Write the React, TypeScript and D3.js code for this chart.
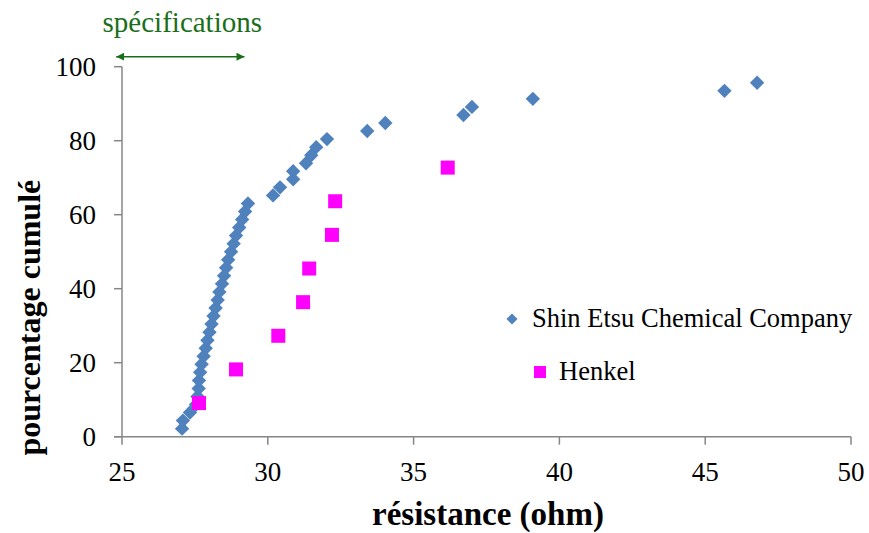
import React from "react";
import * as d3 from "d3";

const shinEtsuResistance = [
  27.06, 27.09, 27.33, 27.54, 27.59, 27.63, 27.64, 27.68, 27.73, 27.8,
  27.87, 27.93, 28.0, 28.07, 28.14, 28.21, 28.28, 28.34, 28.43, 28.5,
  28.57, 28.64, 28.74, 28.83, 28.91, 29.02, 29.12, 29.22, 29.32, 30.18,
  30.42, 30.87, 30.87, 31.31, 31.49, 31.66, 32.03, 33.41, 34.03, 36.71,
  37.0, 39.09, 45.66, 46.78,
];
const shinEtsuTotal = 46;
const henkelResistance = [27.64, 28.91, 30.36, 31.21, 31.42, 32.2, 32.31, 36.17];
const henkelTotal = 11;

const xTicks = [25, 30, 35, 40, 45, 50];
const yTicks = [0, 20, 40, 60, 80, 100];
const specRange = [24.8, 29.2];

const W = 869;
const H = 533;
const M = { left: 122, right: 18, top: 66.7, bottom: 96.3 };

const BLUE = "#4F81BD";
const MAGENTA = "#FF00FF";
const GREEN = "#1A6E1A";
const AXIS = "#868686";
const FONT = "'Liberation Serif', 'Times New Roman', serif";

export default function App() {
  const x = d3.scaleLinear().domain([25, 50]).range([M.left, W - M.right]);
  const y = d3.scaleLinear().domain([0, 100]).range([H - M.bottom, M.top]);
  const x0 = x(25), x1 = x(50), y0 = y(0), y1 = y(100);

  const shin = shinEtsuResistance.map((v, i) => ({ x: v, y: ((i + 1) / shinEtsuTotal) * 100 }));
  const henk = henkelResistance.map((v, i) => ({ x: v, y: ((i + 1) / henkelTotal) * 100 }));

  const ds = 7.2; // diamond half-diagonal
  const sq = 7; // square half-side
  const diamond = (cx: number, cy: number, r: number) =>
    `M${cx},${cy - r}L${cx + r},${cy}L${cx},${cy + r}L${cx - r},${cy}Z`;

  const ax0 = x(specRange[0]);
  const ax1 = x(specRange[1]);
  const ay = 56.7;

  return (
    <svg width={W} height={H} style={{ position: "absolute", left: 0, top: 0 }} fontFamily={FONT}>
      <rect width={W} height={H} fill="#fff" />
      {/* axes */}
      <line x1={x0} x2={x0} y1={y1} y2={y0} stroke={AXIS} strokeWidth={1.5} />
      <line x1={x0 - 8} x2={x1} y1={y0} y2={y0} stroke={AXIS} strokeWidth={1.5} />
      {yTicks.map((t) => (
        <g key={"y" + t}>
          <line x1={x0 - 8} x2={x0} y1={y(t)} y2={y(t)} stroke={AXIS} strokeWidth={1.5} />
          <text x={96} y={y(t)} dy="0.35em" textAnchor="end" fontSize={27} fill="#000">
            {t}
          </text>
        </g>
      ))}
      {xTicks.map((t) => (
        <g key={"x" + t}>
          <line x1={x(t)} x2={x(t)} y1={y0} y2={y0 + 8} stroke={AXIS} strokeWidth={1.5} />
          <text x={x(t)} y={481} textAnchor="middle" fontSize={27} fill="#000">
            {t}
          </text>
        </g>
      ))}
      {/* axis titles */}
      <text x={488} y={525} textAnchor="middle" fontSize={33} fontWeight="bold" fill="#000">
        résistance (ohm)
      </text>
      <text
        transform={`translate(40,${(y0 + y1) / 2 + 66}) rotate(-90)`}
        textAnchor="middle"
        fontSize={32}
        fontWeight="bold"
        fill="#000"
      >
        pourcentage cumulé
      </text>
      {/* specification arrow */}
      <defs>
        <marker id="arrEnd" viewBox="0 0 10 10" refX="10" refY="5" markerWidth="8" markerHeight="8" markerUnits="userSpaceOnUse" orient="auto">
          <path d="M0,0L10,5L0,10Z" fill={GREEN} />
        </marker>
        <marker id="arrStart" viewBox="0 0 10 10" refX="0" refY="5" markerWidth="8" markerHeight="8" markerUnits="userSpaceOnUse" orient="auto">
          <path d="M10,0L0,5L10,10Z" fill={GREEN} />
        </marker>
      </defs>
      <line x1={ax0} x2={ax1} y1={ay} y2={ay} stroke={GREEN} strokeWidth={1.5} markerStart="url(#arrStart)" markerEnd="url(#arrEnd)" />
      <text x={(ax0 + ax1) / 2 + 2} y={32} textAnchor="middle" fontSize={29} fill={GREEN}>
        spécifications
      </text>
      {/* series */}
      {shin.map((d, i) => (
        <path key={"s" + i} d={diamond(x(d.x), y(d.y), ds)} fill={BLUE} />
      ))}
      {henk.map((d, i) => (
        <rect key={"h" + i} x={x(d.x) - sq} y={y(d.y) - sq} width={sq * 2} height={sq * 2} fill={MAGENTA} />
      ))}
      {/* legend */}
      <path d={diamond(512, 319, 5.5)} fill={BLUE} />
      <text x={532} y={327} fontSize={26.5} fill="#000">Shin Etsu Chemical Company</text>
      <rect x={534} y={366} width={12} height={12} fill={MAGENTA} />
      <text x={559} y={380} fontSize={26.5} fill="#000">Henkel</text>
    </svg>
  );
}
